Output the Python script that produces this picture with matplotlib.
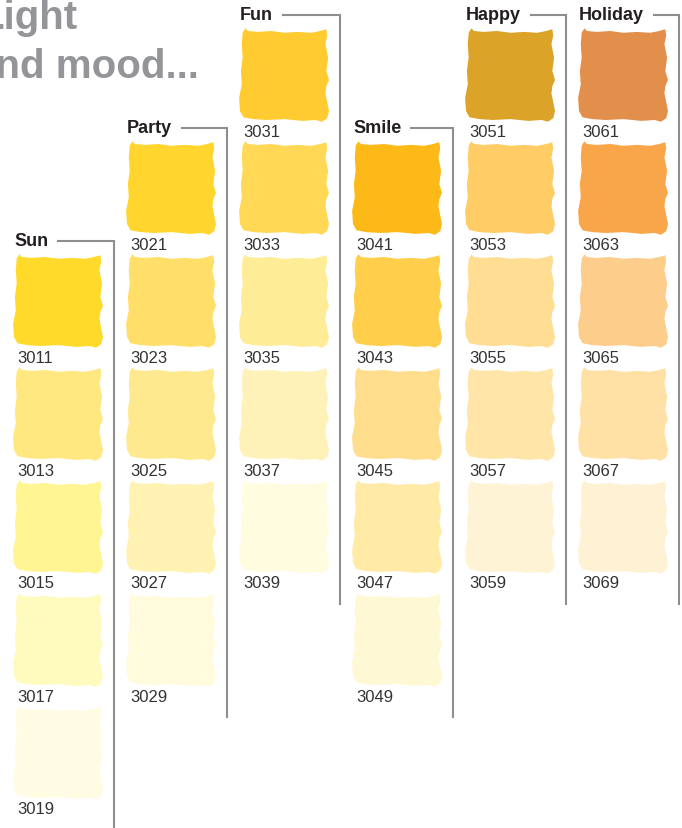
import matplotlib.pyplot as plt
from matplotlib.patches import Polygon

# palette data
groups = ["Sun", "Party", "Fun", "Smile", "Happy", "Holiday"]
start_row = [2, 1, 0, 1, 0, 0]
codes = [
    ["3011", "3013", "3015", "3017", "3019"],
    ["3021", "3023", "3025", "3027", "3029"],
    ["3031", "3033", "3035", "3037", "3039"],
    ["3041", "3043", "3045", "3047", "3049"],
    ["3051", "3053", "3055", "3057", "3059"],
    ["3061", "3063", "3065", "3067", "3069"],
]
colors = [
    ["#FFDA2A", "#FFE880", "#FFF592", "#FFFABD", "#FFFCE3"],
    ["#FFD52E", "#FFDF6A", "#FFE98E", "#FFF2B3", "#FFFBDC"],
    ["#FFCB30", "#FFD855", "#FFEC97", "#FFF2B8", "#FFFCDF"],
    ["#FDB918", "#FFCE4A", "#FEDE8D", "#FFEAA6", "#FFF8D5"],
    ["#DBA327", "#FFCC66", "#FFDD92", "#FFE6A8", "#FFF3D6"],
    ["#E38F4C", "#F9A64A", "#FDCD8C", "#FFE1A5", "#FFF1D4"],
]

W, H = 682, 829
col0, col_step = 14, 113
row0, row_step = 32, 113
sw_w, sw_h = 89, 89
line_col = "#8e8e8e"

# rough paint-swatch outline, unit square, y downward
rough = [(0.03, 0.02), (0.06, -0.03), (0.09, 0.0), (0.2, 0.01), (0.35, 0.0),
         (0.5, 0.02), (0.65, 0.01), (0.8, 0.02), (0.9, 0.0), (0.97, -0.02),
         (0.98, 0.05), (0.96, 0.15), (0.99, 0.3), (0.97, 0.45), (1.0, 0.55),
         (0.97, 0.62), (0.96, 0.7), (0.98, 0.8), (1.0, 0.9), (0.98, 0.98),
         (0.92, 1.02), (0.85, 1.0), (0.7, 1.01), (0.5, 0.99), (0.3, 1.0),
         (0.15, 0.99), (0.04, 0.97), (0.0, 0.9), (-0.01, 0.75), (0.02, 0.6),
         (0.01, 0.45), (0.03, 0.3), (0.02, 0.15)]

fig = plt.figure(figsize=(6.82, 8.29), dpi=100)
ax = fig.add_axes([0, 0, 1, 1])
ax.set_xlim(0, W)
ax.set_ylim(H, 0)
ax.axis("off")

ax.text(77, 29, "Light", ha="right", va="baseline", fontsize=29,
        fontweight="bold", color="#939598", family="Liberation Sans")
ax.text(199, 78, "and mood...", ha="right", va="baseline", fontsize=29,
        fontweight="bold", color="#939598", family="Liberation Sans")

fig.canvas.draw()
rend = fig.canvas.get_renderer()

for i, g in enumerate(groups):
    x0 = col0 + col_step * i
    top0 = row0 + row_step * start_row[i]
    for j, (c, code) in enumerate(zip(colors[i], codes[i])):
        top = top0 + row_step * j
        pts = [(x0 + px * sw_w, top + py * sw_h) for px, py in rough]
        ax.add_patch(Polygon(pts, closed=True, facecolor=c, edgecolor="none"))
        ax.text(x0 + 3, top + 100, code, ha="left", va="center", fontsize=12,
                color="#333333", family="Liberation Sans")
    hy = top0 - 17
    t = ax.text(x0, hy, g, ha="left", va="center", fontsize=13,
                fontweight="bold", color="#231F20", family="Liberation Sans")
    bb = t.get_window_extent(renderer=rend)
    x_end = bb.x1 * W / fig.bbox.width + 10
    vx = x0 + 100
    bottom = top0 + row_step * (len(codes[i]) - 1) + 121
    ax.plot([x_end, vx, vx], [hy + 1, hy + 1, bottom], color=line_col,
            lw=1.5, solid_joinstyle="miter")

fig.savefig("out.png", dpi=100)
